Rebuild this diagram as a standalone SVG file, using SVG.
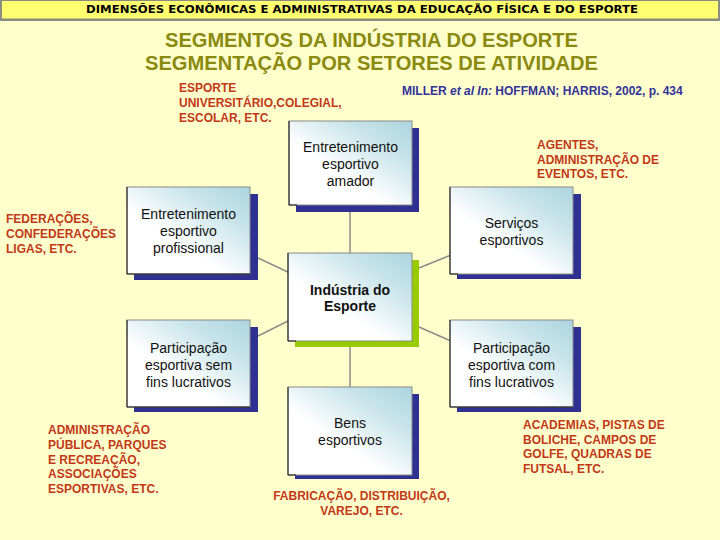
<svg xmlns="http://www.w3.org/2000/svg" width="720" height="540" viewBox="0 0 720 540">
  <style>
    .hdr { font-family: "DejaVu Sans", "Liberation Sans", sans-serif; font-weight: bold; font-size: 10.5px; fill: #000; }
    .title { font-family: "Liberation Sans", Arial, sans-serif; font-weight: bold; font-size: 20px; fill: #8A8A10; }
    .red { font-family: "Liberation Sans", Arial, sans-serif; font-weight: bold; font-size: 12px; fill: #C2381A; }
    .blue { font-family: "Liberation Sans", Arial, sans-serif; font-weight: bold; font-size: 12px; fill: #333399; }
    .lbl { font-family: "Liberation Sans", Arial, sans-serif; font-size: 14px; fill: #111; text-anchor: middle; }
    .lblb { font-family: "Liberation Sans", Arial, sans-serif; font-size: 14px; font-weight: bold; fill: #111; text-anchor: middle; }
    .box { fill: url(#grad); stroke: #8a8a8a; stroke-width: 1; }
    .edge { fill: none; stroke: #111; stroke-width: 1; }
    .shadow { fill: #2E3192; }
    .shadowG { fill: #99CC00; }
    .conn { stroke: #8C8C8C; stroke-width: 1.5; fill: none; }
  </style>
  <defs>
    <linearGradient id="grad" x1="1" y1="0" x2="0.15" y2="0.9">
      <stop offset="0" stop-color="#ACD5DF"/>
      <stop offset="0.3" stop-color="#C8E4EA"/>
      <stop offset="0.7" stop-color="#FFFFFF"/>
      <stop offset="1" stop-color="#FFFFFF"/>
    </linearGradient>
  </defs>

  <rect x="0" y="0" width="720" height="540" fill="#FFFFCC"/>

  <g id="header">
    <rect x="0" y="0" width="720" height="21" fill="#8C8C80"/>
    <rect x="2" y="1" width="716" height="17.5" fill="#FFFF70"/>
    <text class="hdr" x="362" y="12.5" text-anchor="middle" textLength="552" lengthAdjust="spacingAndGlyphs">DIMENSÕES ECONÔMICAS E ADMINISTRATIVAS DA EDUCAÇÃO FÍSICA E DO ESPORTE</text>
  </g>

  <g id="titles">
    <text class="title" x="371.5" y="47" text-anchor="middle" textLength="413" lengthAdjust="spacingAndGlyphs">SEGMENTOS DA INDÚSTRIA DO ESPORTE</text>
    <text class="title" x="371.5" y="70" text-anchor="middle" textLength="453" lengthAdjust="spacingAndGlyphs">SEGMENTAÇÃO POR SETORES DE ATIVIDADE</text>
  </g>

  <g id="connectors">
    <line class="conn" x1="350" y1="212" x2="350" y2="253"/>
    <line class="conn" x1="350" y1="347" x2="350" y2="387"/>
    <line class="conn" x1="258" y1="258" x2="290" y2="273"/>
    <line class="conn" x1="258" y1="336" x2="290" y2="320"/>
    <line class="conn" x1="419" y1="268" x2="451" y2="255"/>
    <line class="conn" x1="419" y1="327" x2="451" y2="341"/>
  </g>

  <g id="n-amador">
    <rect class="shadow" x="296" y="128" width="123" height="84"/>
    <rect class="box" x="289" y="121" width="123" height="84"/>
    <polyline class="edge" points="289,121 289,205 297,205"/>
    <text class="lbl" x="350.5" y="152">Entretenimento</text>
    <text class="lbl" x="350.5" y="169">esportivo</text>
    <text class="lbl" x="350.5" y="186">amador</text>
  </g>

  <g id="n-profissional">
    <rect class="shadow" x="134" y="194" width="124" height="86"/>
    <rect class="box" x="127" y="187" width="123" height="87"/>
    <polyline class="edge" points="127,187 127,274 250,274"/>
    <text class="lbl" x="188.5" y="219">Entretenimento</text>
    <text class="lbl" x="188.5" y="236">esportivo</text>
    <text class="lbl" x="188.5" y="253">profissional</text>
  </g>

  <g id="n-servicos">
    <rect class="shadow" x="457" y="194" width="124" height="85"/>
    <rect class="box" x="450" y="187" width="123" height="87"/>
    <polyline class="edge" points="450,187 450,274 458,274"/>
    <text class="lbl" x="511.5" y="228">Serviços</text>
    <text class="lbl" x="511.5" y="245">esportivos</text>
  </g>

  <g id="n-industria">
    <rect class="shadowG" x="295" y="260" width="124" height="87"/>
    <rect class="box" x="288" y="253" width="124" height="88"/>
    <polyline class="edge" points="288,253 288,341 296,341"/>
    <text class="lblb" x="350" y="295">Indústria do</text>
    <text class="lblb" x="350" y="311">Esporte</text>
  </g>

  <g id="n-semfins">
    <rect class="shadow" x="134" y="327" width="124" height="85"/>
    <rect class="box" x="127" y="320" width="123" height="87"/>
    <polyline class="edge" points="127,320 127,407 250,407"/>
    <text class="lbl" x="188.5" y="353">Participação</text>
    <text class="lbl" x="188.5" y="370">esportiva sem</text>
    <text class="lbl" x="188.5" y="387">fins lucrativos</text>
  </g>

  <g id="n-comfins">
    <rect class="shadow" x="457" y="327" width="124" height="85"/>
    <rect class="box" x="450" y="320" width="123" height="87"/>
    <polyline class="edge" points="450,320 450,407 573,407"/>
    <text class="lbl" x="511.5" y="353">Participação</text>
    <text class="lbl" x="511.5" y="370">esportiva com</text>
    <text class="lbl" x="511.5" y="387">fins lucrativos</text>
  </g>

  <g id="n-bens">
    <rect class="shadow" x="295" y="394" width="124" height="85"/>
    <rect class="box" x="288" y="387" width="124" height="88"/>
    <polyline class="edge" points="288,387 288,475 296,475"/>
    <text class="lbl" x="350" y="428">Bens</text>
    <text class="lbl" x="350" y="445">esportivos</text>
  </g>

  <g id="notes">
    <text class="red" x="179" y="92">ESPORTE</text>
    <text class="red" x="179" y="107">UNIVERSITÁRIO,COLEGIAL,</text>
    <text class="red" x="179" y="122">ESCOLAR, ETC.</text>

    <text class="blue" x="402" y="95">MILLER <tspan font-style="italic">et al In:</tspan> HOFFMAN; HARRIS, 2002, p. 434</text>

    <text class="red" x="537" y="149">AGENTES,</text>
    <text class="red" x="537" y="164">ADMINISTRAÇÃO DE</text>
    <text class="red" x="537" y="178">EVENTOS, ETC.</text>

    <text class="red" x="6" y="223">FEDERAÇÕES,</text>
    <text class="red" x="6" y="238">CONFEDERAÇÕES</text>
    <text class="red" x="6" y="253">LIGAS, ETC.</text>

    <text class="red" x="48" y="434">ADMINISTRAÇÃO</text>
    <text class="red" x="48" y="449">PÚBLICA, PARQUES</text>
    <text class="red" x="48" y="463.5">E RECREAÇÃO,</text>
    <text class="red" x="48" y="478">ASSOCIAÇÕES</text>
    <text class="red" x="48" y="492.5">ESPORTIVAS, ETC.</text>

    <text class="red" x="523" y="429">ACADEMIAS, PISTAS DE</text>
    <text class="red" x="523" y="443.5">BOLICHE, CAMPOS DE</text>
    <text class="red" x="523" y="458">GOLFE, QUADRAS DE</text>
    <text class="red" x="523" y="472.5">FUTSAL, ETC.</text>

    <text class="red" x="361.5" y="500" text-anchor="middle">FABRICAÇÃO, DISTRIBUIÇÃO,</text>
    <text class="red" x="361.5" y="515" text-anchor="middle">VAREJO, ETC.</text>
  </g>
</svg>
